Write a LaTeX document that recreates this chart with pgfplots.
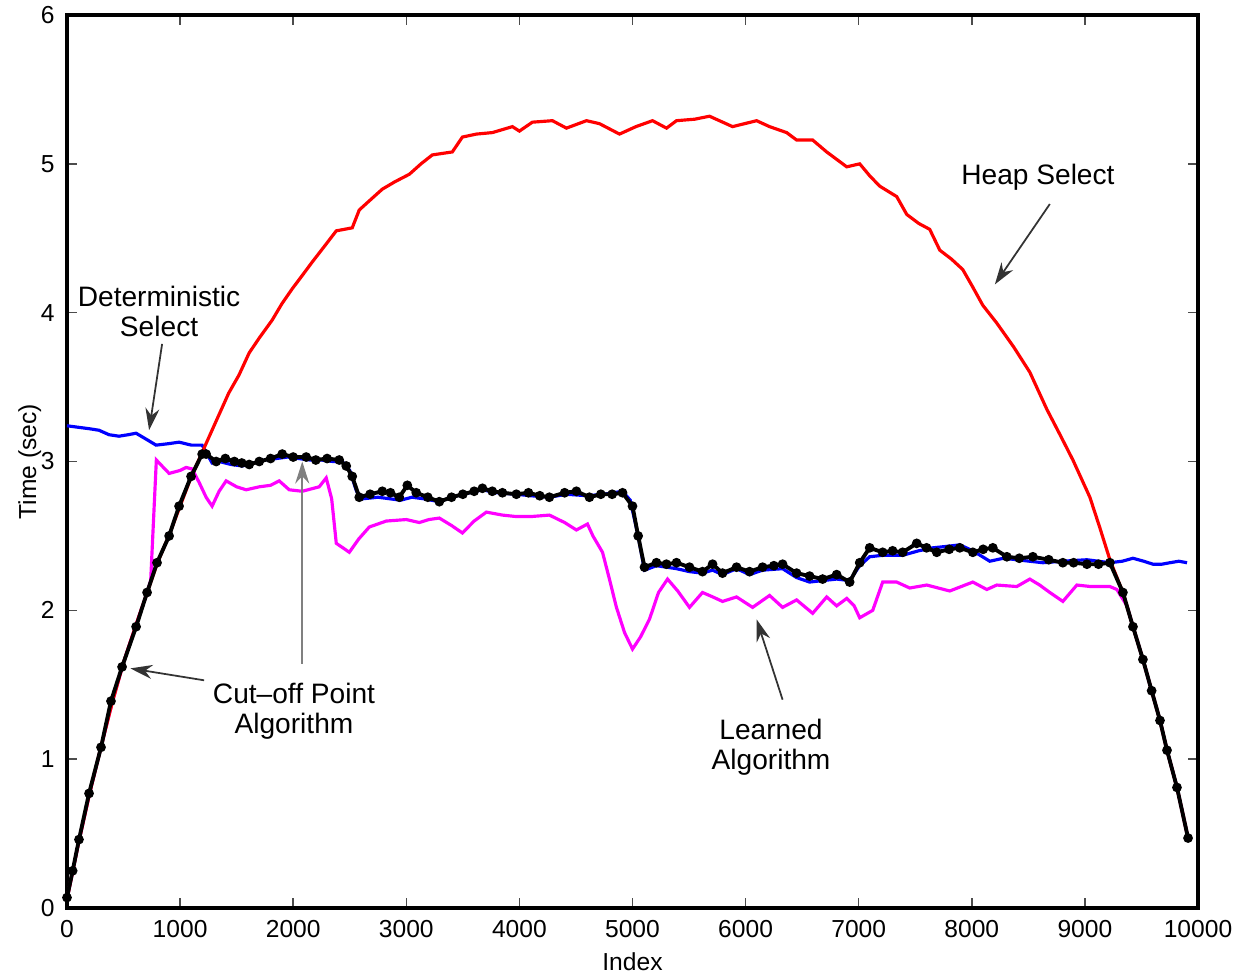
\documentclass[border=0pt]{standalone}
\usepackage{pgfplots}
\pgfplotsset{compat=1.18}
\usepackage{fontspec}
\setmainfont{Liberation Sans}
\usetikzlibrary{arrows.meta}
\definecolor{mred}{RGB}{255,0,0}
\definecolor{mblue}{RGB}{0,0,255}
\definecolor{mmag}{RGB}{255,0,255}

\begin{document}
\begin{tikzpicture}
\begin{axis}[
    name=ax,
    scale only axis,
    width=11.31cm, height=8.93cm,
    xmin=0, xmax=10000,
    ymin=0, ymax=6,
    xtick={0,1000,...,10000},
    ytick={0,1,...,6},
    tick align=inside,
    xtick pos=both, ytick pos=both,
    major tick length=0.1cm,
    tick style={black!70, line width=0.4pt},
    axis line style={line width=1.1pt},
    scaled x ticks=false,
    xticklabel style={/pgf/number format/1000 sep={}},
    /pgf/number format/assume math mode=true,
    tick label style={font=\fontsize{7}{8}\selectfont},
    label style={font=\fontsize{7}{8}\selectfont},
    xlabel={Index},
    ylabel={Time (sec)},
    xlabel style={at={(axis description cs:0.5,0)}, anchor=center, yshift=-0.54cm},
    ylabel style={at={(axis description cs:-0.033,0.5)}, anchor=center},
    clip=false,
]

% Deterministic Select
\addplot[mblue, line width=0.9pt] coordinates {
(0,3.24)(100,3.23)(200,3.22)(283,3.21)(372,3.18)(460,3.17)(540,3.18)(611,3.19)
(700,3.15)(788,3.11)(900,3.12)(991,3.13)(1100,3.11)(1195,3.11)(1283,2.99)(1345,3.00)
(1450,2.98)(1550,2.97)(1650,2.99)(1750,3.01)(1850,3.02)(1950,3.03)(2050,3.02)(2150,3.01)
(2250,3.01)(2350,3.00)(2434,3.00)(2500,2.94)(2560,2.80)(2620,2.75)(2750,2.76)(2850,2.75)
(2950,2.74)(3050,2.76)(3150,2.75)(3292,2.73)(3400,2.76)(3500,2.78)(3673,2.81)(3800,2.79)
(3973,2.78)(4100,2.77)(4265,2.76)(4416,2.78)(4600,2.77)(4750,2.78)(4912,2.80)(4980,2.74)
(5050,2.50)(5106,2.27)(5212,2.30)(5389,2.28)(5504,2.26)(5619,2.25)(5708,2.27)(5796,2.24)
(5920,2.28)(6035,2.24)(6150,2.27)(6327,2.28)(6451,2.22)(6566,2.19)(6681,2.20)(6805,2.21)
(6920,2.20)(7009,2.30)(7097,2.36)(7212,2.37)(7389,2.37)(7530,2.40)(7655,2.42)(7780,2.43)
(7894,2.44)(8009,2.40)(8159,2.33)(8280,2.35)(8398,2.34)(8510,2.33)(8628,2.32)(8800,2.33)
(9018,2.34)(9221,2.32)(9330,2.33)(9425,2.35)(9520,2.33)(9602,2.31)(9680,2.31)(9752,2.32)
(9830,2.33)(9903,2.32)
};

% Learned Algorithm
\addplot[mmag, line width=0.9pt] coordinates {
(0,0.06)(100,0.43)(200,0.77)(300,1.08)(400,1.38)(500,1.65)(600,1.88)(700,2.10)
(740,2.20)(790,3.01)(840,2.97)(903,2.92)(1000,2.94)(1053,2.96)(1106,2.95)(1168,2.86)
(1230,2.76)(1283,2.70)(1345,2.80)(1407,2.87)(1500,2.83)(1584,2.81)(1700,2.83)(1800,2.84)
(1876,2.87)(1965,2.81)(2080,2.80)(2230,2.83)(2292,2.89)(2340,2.75)(2381,2.45)(2440,2.42)
(2496,2.39)(2580,2.48)(2673,2.56)(2823,2.60)(3000,2.61)(3115,2.59)(3200,2.61)(3292,2.62)
(3400,2.57)(3496,2.52)(3600,2.60)(3708,2.66)(3850,2.64)(3973,2.63)(4100,2.63)(4265,2.64)
(4400,2.59)(4504,2.54)(4602,2.58)(4650,2.50)(4735,2.39)(4796,2.21)(4858,2.02)(4930,1.85)
(5000,1.74)(5070,1.82)(5150,1.94)(5230,2.12)(5310,2.21)(5400,2.13)(5504,2.02)(5619,2.12)
(5710,2.09)(5796,2.06)(5920,2.09)(6062,2.02)(6212,2.10)(6327,2.02)(6451,2.07)(6593,1.98)
(6717,2.09)(6805,2.03)(6894,2.08)(6960,2.03)(7009,1.95)(7124,2.00)(7212,2.19)(7336,2.19)
(7451,2.15)(7602,2.17)(7805,2.13)(8009,2.19)(8133,2.14)(8221,2.17)(8398,2.16)(8513,2.21)
(8600,2.17)(8690,2.12)(8805,2.06)(8929,2.17)(9050,2.16)(9221,2.16)(9283,2.14)(9372,2.03)
(9425,1.89)(9513,1.67)(9590,1.46)(9664,1.26)(9726,1.06)(9814,0.81)(9912,0.47)
};

% Heap Select
\addplot[mred, line width=0.9pt] coordinates {
(0,0.06)(100,0.43)(200,0.77)(300,1.08)(400,1.38)(500,1.65)(600,1.88)(700,2.10)
(800,2.32)(900,2.50)(1000,2.70)(1100,2.90)(1200,3.07)(1300,3.24)(1430,3.46)(1520,3.58)
(1611,3.73)(1700,3.83)(1814,3.95)(1900,4.06)(1991,4.16)(2080,4.25)(2168,4.34)(2280,4.45)
(2381,4.55)(2522,4.57)(2584,4.69)(2700,4.77)(2788,4.83)(2900,4.88)(3027,4.93)(3130,5.00)
(3230,5.06)(3407,5.08)(3496,5.18)(3620,5.20)(3761,5.21)(3938,5.25)(4000,5.22)(4115,5.28)
(4292,5.29)(4416,5.24)(4593,5.29)(4708,5.27)(4885,5.20)(5030,5.25)(5177,5.29)(5301,5.24)
(5389,5.29)(5550,5.30)(5681,5.32)(5885,5.25)(6097,5.29)(6212,5.25)(6363,5.21)(6451,5.16)
(6593,5.16)(6717,5.08)(6894,4.98)(7009,5.00)(7097,4.92)(7186,4.85)(7336,4.78)(7425,4.66)
(7530,4.60)(7628,4.56)(7717,4.42)(7820,4.36)(7920,4.29)(8010,4.17)(8097,4.05)(8221,3.93)
(8370,3.77)(8513,3.60)(8664,3.35)(8780,3.18)(8894,3.01)(9044,2.76)(9130,2.56)(9221,2.34)
(9336,2.12)(9425,1.89)(9513,1.67)(9590,1.46)(9664,1.26)(9726,1.06)(9814,0.81)(9912,0.47)
};

% Cut-off Point Algorithm
\addplot[black, line width=1.1pt, mark=*, mark size=0.8pt] coordinates {
(0,0.07)(50,0.25)(106,0.46)(195,0.77)(301,1.08)(389,1.39)(487,1.62)(611,1.89)
(708,2.12)(796,2.32)(903,2.50)(991,2.70)(1097,2.90)(1195,3.05)(1230,3.05)(1319,3.00)
(1400,3.02)(1480,3.00)(1545,2.99)(1611,2.98)(1700,3.00)(1800,3.02)(1903,3.05)(2000,3.03)
(2115,3.03)(2200,3.01)(2300,3.02)(2407,3.01)(2469,2.97)(2522,2.90)(2584,2.76)(2680,2.78)
(2788,2.80)(2860,2.79)(2938,2.76)(3009,2.84)(3088,2.79)(3190,2.76)(3292,2.73)(3400,2.76)
(3500,2.78)(3600,2.80)(3673,2.82)(3760,2.80)(3850,2.79)(3973,2.78)(4080,2.79)(4180,2.77)
(4265,2.76)(4400,2.79)(4504,2.80)(4619,2.76)(4720,2.78)(4820,2.78)(4912,2.79)(5000,2.70)
(5050,2.50)(5106,2.29)(5212,2.32)(5300,2.31)(5389,2.32)(5504,2.29)(5619,2.26)(5708,2.31)
(5796,2.25)(5920,2.29)(6035,2.26)(6150,2.29)(6250,2.30)(6327,2.31)(6451,2.25)(6566,2.23)
(6681,2.21)(6805,2.24)(6920,2.19)(7009,2.32)(7097,2.42)(7212,2.39)(7300,2.40)(7389,2.39)
(7513,2.45)(7600,2.42)(7690,2.39)(7800,2.41)(7894,2.42)(8009,2.39)(8100,2.41)(8186,2.42)
(8310,2.36)(8420,2.35)(8540,2.36)(8680,2.34)(8805,2.32)(8900,2.32)(9018,2.31)(9120,2.31)
(9221,2.32)(9336,2.12)(9425,1.89)(9513,1.67)(9590,1.46)(9664,1.26)(9726,1.06)(9814,0.81)
(9912,0.47)
};

% annotations
\begin{scope}[font=\fontsize{8}{8.6}\selectfont]
\node[align=center] at (axis cs:814,4.01) {Deterministic\\Select};
\node at (axis cs:8585,4.91) {Heap Select};
\node[align=center] at (axis cs:2007,1.32) {Cut--off Point\\Algorithm};
\node[align=center] at (axis cs:6225,1.08) {Learned\\Algorithm};
\end{scope}
\begin{scope}[black!80, line width=0.5pt, -{Stealth[length=2.2mm,width=1.4mm]}]
\draw (axis cs:841,3.79) -- (axis cs:726,3.21);
\draw (axis cs:8690,4.73) -- (axis cs:8204,4.19);
\draw (axis cs:1212,1.53) -- (axis cs:560,1.61);
\draw[black!50] (axis cs:2080,1.64) -- (axis cs:2080,3.0);
\draw (axis cs:6327,1.40) -- (axis cs:6097,1.94);
\end{scope}
\end{axis}
\pgfresetboundingbox
\useasboundingbox (-0.67,-0.67) rectangle (11.71,9.08);
\end{tikzpicture}
\end{document}
